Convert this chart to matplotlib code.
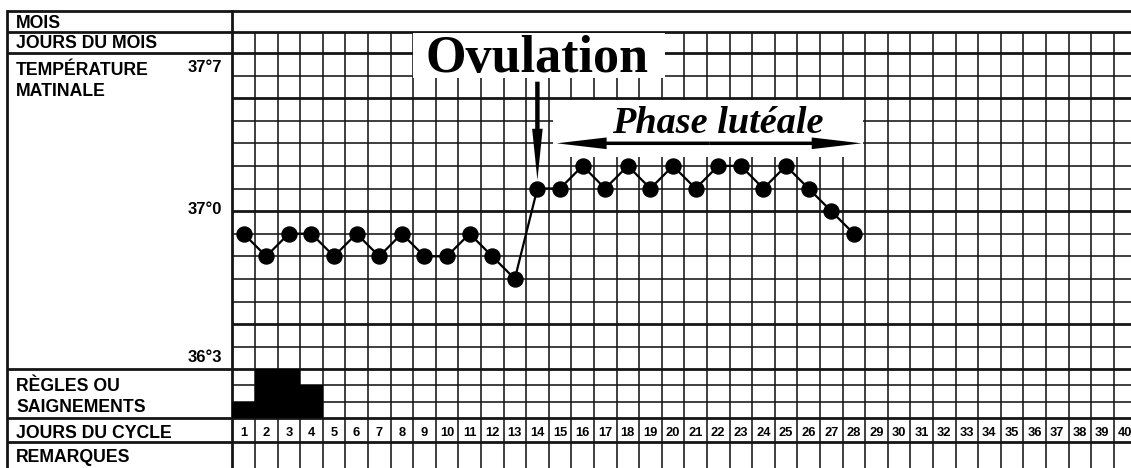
import numpy as np
import matplotlib
matplotlib.use("Agg")
import matplotlib.pyplot as plt
from matplotlib.patches import Rectangle

# ---------------- data ----------------
cycle_days = list(range(1, 41))
temp_days = list(range(1, 29))
temps = [36.9, 36.8, 36.9, 36.9, 36.8, 36.9, 36.8, 36.9, 36.8, 36.8,
         36.9, 36.8, 36.7, 37.1, 37.1, 37.2, 37.1, 37.2, 37.1, 37.2,
         37.1, 37.2, 37.2, 37.1, 37.2, 37.1, 37.0, 36.9]
regles_days = [1, 2, 3, 4]
regles_level = [1, 3, 3, 2]
temp_label_values = [37.7, 37.0, 36.3]
temp_labels = ["37°7", "37°0", "36°3"]
ovulation_day = 14
luteal_days = [14, 28]
t_min, t_max = 36.3, 37.7

# ---------------- layout (pixels) ----------------
W, H = 1131, 468
fig = plt.figure(figsize=(W / 100, H / 100), dpi=100)
fig.patch.set_facecolor("white")

XL = 7.0        # left border
XC = 232.3      # label column separator
CW = 22.6       # cell width
YT = 11.0       # top border
Y_MOIS = 31.7
Y_JDM = 52.9
Y_TEMP = Y_JDM + 14 * CW
Y_REG = 417.7
Y_CYC = 441.7
Y_REM = 500.0
XR = XC + 40 * CW

INK = "#151515"
THIN = 1.15
THICK = 2.0


def add_ax(y0, y1, z=2):
    ax = fig.add_axes([XC / W, 1 - y1 / H, (XR - XC) / W, (y1 - y0) / H])
    ax.set_xlim(0.5, 40.5)
    ax.axis("off")
    ax.patch.set_visible(False)
    ax.set_zorder(z)
    return ax


# background / frame axes in pixel coordinates
bg = fig.add_axes([0, 0, 1, 1])
bg.set_xlim(0, W)
bg.set_ylim(H, 0)
bg.axis("off")
bg.set_zorder(1)

for y in [YT, Y_MOIS, Y_JDM, Y_TEMP, Y_REG, Y_CYC]:
    bg.plot([XL, W], [y, y], color=INK, lw=THICK, solid_capstyle="butt")
bg.plot([XL, XL], [YT, H], color=INK, lw=THICK)
bg.plot([XC, XC], [YT, H], color=INK, lw=THICK)

lab_kw = dict(fontsize=12.7, fontweight="bold", family=["Liberation Sans", "DejaVu Sans"],
              color="black", ha="left", va="baseline")
row_labels = [("MOIS", 28.0), ("JOURS DU MOIS", 48.3), ("TEMPÉRATURE", 75.0),
              ("MATINALE", 95.7), ("RÈGLES OU", 391.0), ("SAIGNEMENTS", 411.7),
              ("JOURS DU CYCLE", 438.0), ("REMARQUES", 461.7)]
for txt, yb in row_labels:
    bg.text(16, yb, txt, **lab_kw)

vlines = np.arange(1.5, 40.5, 1.0)

# jours du mois row
ax_jdm = add_ax(Y_MOIS, Y_JDM)
ax_jdm.set_ylim(0, 1)
ax_jdm.vlines(vlines, 0, 1, color=INK, lw=THIN)

# temperature area
ax_t = add_ax(Y_JDM, Y_TEMP, z=3)
ax_t.set_ylim(t_min, t_max)
ax_t.vlines(vlines, t_min, t_max, color=INK, lw=THIN, zorder=1)
levels = np.round(np.arange(t_min + 0.1, t_max - 0.05, 0.1), 1)
for lv in levels:
    thick = abs(lv * 10 % 5) < 1e-6
    ax_t.axhline(lv, color=INK, lw=THICK if thick else THIN, zorder=1)

ax_t.plot(temp_days, temps, color="black", lw=1.6, marker="o", ms=10.8,
          mfc="black", mec="black", zorder=4)


def tp(pix):
    """pixel row -> temperature value in the chart scale"""
    return t_max - (pix - Y_JDM) / CW * 0.1


# temperature scale labels
offsets = [-18.8, -2.9, 7.0]
for v, lab, dy in zip(temp_label_values, temp_labels, offsets):
    ax_t.annotate(lab, xy=(0.5, v), xycoords="data", xytext=(-10.6, dy),
                  textcoords="offset pixels", ha="right", va="baseline",
                  fontsize=12, fontweight="bold",
                  family=["Liberation Sans", "DejaVu Sans"], annotation_clip=False)

serif = ["Liberation Serif", "DejaVu Serif"]

# Ovulation annotation
ax_t.add_patch(Rectangle((8.5, tp(77.5)), 11.15, tp(33.0) - tp(77.5),
                         facecolor="white", edgecolor="none", clip_on=False, zorder=5))
ax_t.text(ovulation_day, tp(72.0), "Ovulation", ha="center", va="baseline",
          fontsize=37.5, fontweight="bold", family=serif, clip_on=False, zorder=6)
ov_temp = temps[temp_days.index(ovulation_day)]
ax_t.annotate("", xy=(ovulation_day, ov_temp), xytext=(ovulation_day, tp(81.7)),
              arrowprops=dict(arrowstyle="simple,head_length=37,head_width=7.6,tail_width=3.2",
                              mutation_scale=1, fc="black", ec="none", lw=0,
                              shrinkA=0, shrinkB=6.0),
              zorder=6, annotation_clip=False)

# Phase lutéale annotation
ax_t.add_patch(Rectangle((14.69, tp(157.0)), 13.71, tp(99.6) - tp(157.0),
                         facecolor="white", edgecolor="none", clip_on=False, zorder=5))
ax_t.text(np.mean(luteal_days) + 1, tp(132.5), "Phase lutéale", ha="center",
          va="baseline", fontsize=27.5, fontweight="bold", style="italic",
          family=serif, clip_on=False, zorder=6)
mid = np.mean([luteal_days[0] + 0.85, luteal_days[1] + 0.35])
for end in [luteal_days[0] + 0.85, luteal_days[1] + 0.35]:
    ax_t.annotate("", xy=(end, 37.3), xytext=(mid, 37.3),
                  arrowprops=dict(arrowstyle="simple,head_length=36,head_width=8.4,tail_width=2.5",
                                  mutation_scale=1, fc="black", ec="none", lw=0,
                                  shrinkA=0, shrinkB=0),
                  zorder=6, annotation_clip=False)

# règles / saignements
ax_r = add_ax(Y_TEMP, Y_REG)
ax_r.set_ylim(0, 3)
ax_r.bar(regles_days, regles_level, width=1.0, color="black", zorder=2)
ax_r.vlines(vlines, 0, 3, color=INK, lw=THIN, zorder=1)
for lv in [1, 2]:
    ax_r.axhline(lv, color=INK, lw=THIN, zorder=1)

# jours du cycle
ax_c = add_ax(Y_REG, Y_CYC)
ax_c.set_ylim(0, 1)
ax_c.vlines(vlines, 0, 1, color=INK, lw=THIN)
for d in cycle_days:
    ax_c.text(d, 0.25, str(d), ha="center", va="baseline", fontsize=9.3,
              fontweight="bold", family=["Liberation Sans", "DejaVu Sans"])

# remarques
ax_m = add_ax(Y_CYC, Y_REM)
ax_m.set_ylim(0, 1)
ax_m.vlines(vlines, 0, 1, color=INK, lw=THIN)

fig.savefig("out.png", dpi=100, facecolor="white")
